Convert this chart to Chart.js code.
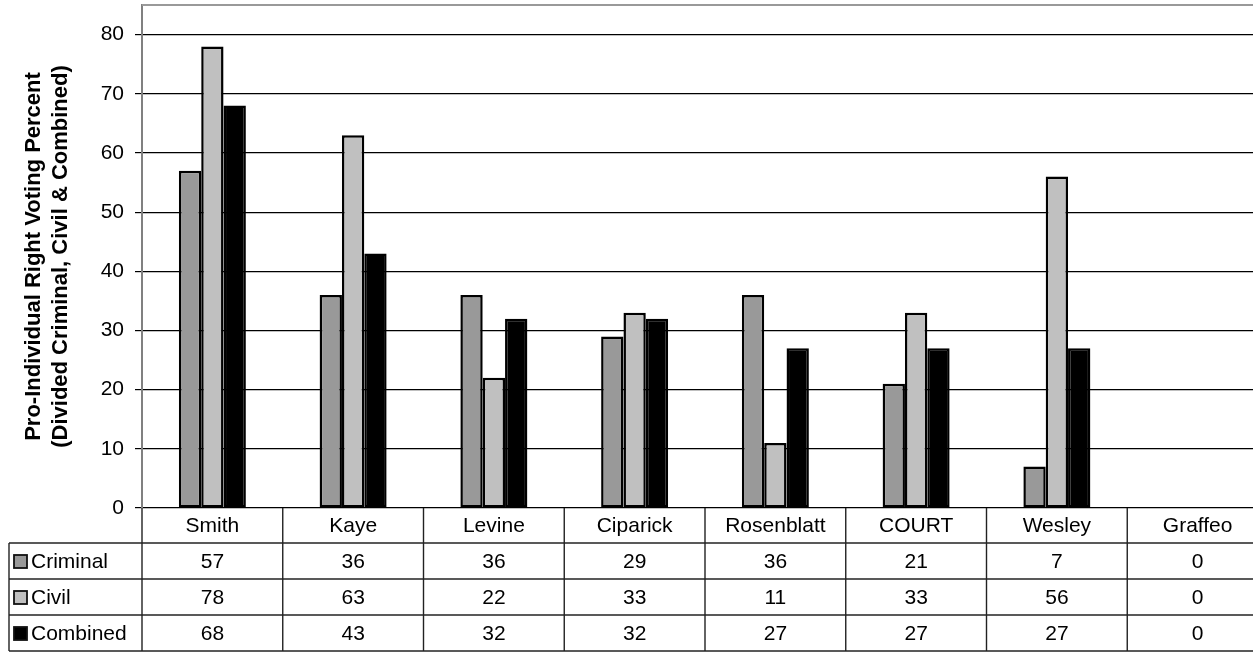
<!DOCTYPE html>
<html>
<head>
<meta charset="utf-8">
<script src="https://cdn.jsdelivr.net/npm/chart.js@4/dist/chart.umd.min.js"></script>
<style>
  html, body { margin: 0; padding: 0; background: #fff; overflow: hidden; }
  #wrap { width: 1272px; height: 652px; }
</style>
</head>
<body>
<div id="wrap"><canvas id="chart" width="1272" height="652"></canvas></div>
<script>
// --- Data ---
const judges = ["Smith", "Kaye", "Levine", "Ciparick", "Rosenblatt", "COURT", "Wesley", "Graffeo"];
const criminal = [57, 36, 36, 29, 36, 21, 7, 0];
const civil = [78, 63, 22, 33, 11, 33, 56, 0];
const combined = [68, 43, 32, 32, 27, 27, 27, 0];
const seriesNames = ["Criminal", "Civil", "Combined"];
const yTicks = [0, 10, 20, 30, 40, 50, 60, 70, 80];
const yTitle = ["Pro-Individual Right Voting Percent", "(Divided Criminal, Civil & Combined)"];

const seriesColors = ["#999999", "#c0c0c0", "#000000"];
const FONT = "'Liberation Sans', Arial, sans-serif";

// data table under the plot, built from the datasets
const dataTable = {
  id: "dataTable",
  afterDraw(chart) {
    const { ctx, chartArea } = chart;
    const x = chart.scales.x;
    const top = chartArea.bottom;
    const headH = 35, rowH = 36;
    const tableLeft = 9;
    const right = chartArea.right;
    const colW = x.getPixelForValue(1) - x.getPixelForValue(0);

    ctx.save();
    ctx.strokeStyle = "#222";
    ctx.lineWidth = 1.4;

    // horizontal lines
    const rowsY = [top + headH, top + headH + rowH, top + headH + 2 * rowH, top + headH + 3 * rowH];
    rowsY.forEach(y => {
      ctx.beginPath();
      ctx.moveTo(tableLeft, y);
      ctx.lineTo(right, y);
      ctx.stroke();
    });
    // vertical lines
    for (let i = 0; i <= judges.length; i++) {
      const xx = x.getPixelForValue(0) - colW / 2 + i * colW;
      ctx.beginPath();
      ctx.moveTo(xx, top);
      ctx.lineTo(xx, rowsY[3]);
      ctx.stroke();
    }
    ctx.beginPath();
    ctx.moveTo(tableLeft, rowsY[0]);
    ctx.lineTo(tableLeft, rowsY[3]);
    ctx.stroke();

    // header
    ctx.fillStyle = "#000";
    ctx.font = "21px " + FONT;
    ctx.textAlign = "center";
    ctx.textBaseline = "middle";
    judges.forEach((j, i) => {
      ctx.fillText(j, x.getPixelForValue(i), top + headH / 2 + 1);
    });

    // rows
    chart.data.datasets.forEach((ds, r) => {
      const cy = rowsY[r] + rowH / 2 + 1;
      ctx.textAlign = "center";
      ds.data.forEach((v, i) => {
        ctx.fillText(String(v), x.getPixelForValue(i), cy);
      });
      // legend key
      ctx.fillStyle = ds.backgroundColor;
      ctx.fillRect(14, cy - 7, 13, 13);
      ctx.strokeStyle = "#111";
      ctx.lineWidth = 1.8;
      ctx.strokeRect(14, cy - 7, 13, 13);
      ctx.fillStyle = "#000";
      ctx.textAlign = "left";
      ctx.fillText(ds.label, 31, cy);
      ctx.strokeStyle = "#222";
      ctx.lineWidth = 1.4;
    });

    // top border of plot area
    ctx.strokeStyle = "#999";
    ctx.lineWidth = 2;
    ctx.beginPath();
    ctx.moveTo(chartArea.left, chartArea.top);
    ctx.lineTo(chartArea.right + 4, chartArea.top);
    ctx.stroke();
    ctx.restore();
  }
};

const values = [criminal, civil, combined];

new Chart(document.getElementById("chart"), {
  type: "bar",
  data: {
    labels: judges,
    datasets: seriesNames.map((name, i) => ({
      label: name,
      data: values[i],
      backgroundColor: seriesColors[i],
      borderColor: "#000",
      borderWidth: 2.5,
      borderSkipped: false,
      categoryPercentage: 0.476,
      barPercentage: 1.0
    }))
  },
  options: {
    responsive: false,
    animation: false,
    devicePixelRatio: 1,
    layout: { padding: { top: 5, bottom: 144, left: 0, right: 4 } },
    plugins: {
      legend: { display: false },
      tooltip: { enabled: false }
    },
    scales: {
      x: { display: false },
      y: {
        min: 0,
        max: 85,
        afterBuildTicks: scale => { scale.ticks = yTicks.map(v => ({ value: v })); },
        afterFit: scale => {
          scale.width = 142;
          scale.paddingTop = 0;
          scale.paddingBottom = 0;
        },
        ticks: {
          color: "#000",
          font: { family: FONT, size: 21 },
          padding: 11
        },
        grid: {
          color: "#000",
          lineWidth: 1.2,
          tickLength: 7,
          tickColor: "#000"
        },
        border: { display: true, color: "#808080", width: 2 },
        title: {
          display: true,
          text: yTitle,
          color: "#000",
          font: { family: FONT, size: 22, weight: "bold", lineHeight: 1.25 },
          padding: { top: 20, bottom: 0 }
        }
      }
    }
  },
  plugins: [dataTable]
});
</script>
</body>
</html>
